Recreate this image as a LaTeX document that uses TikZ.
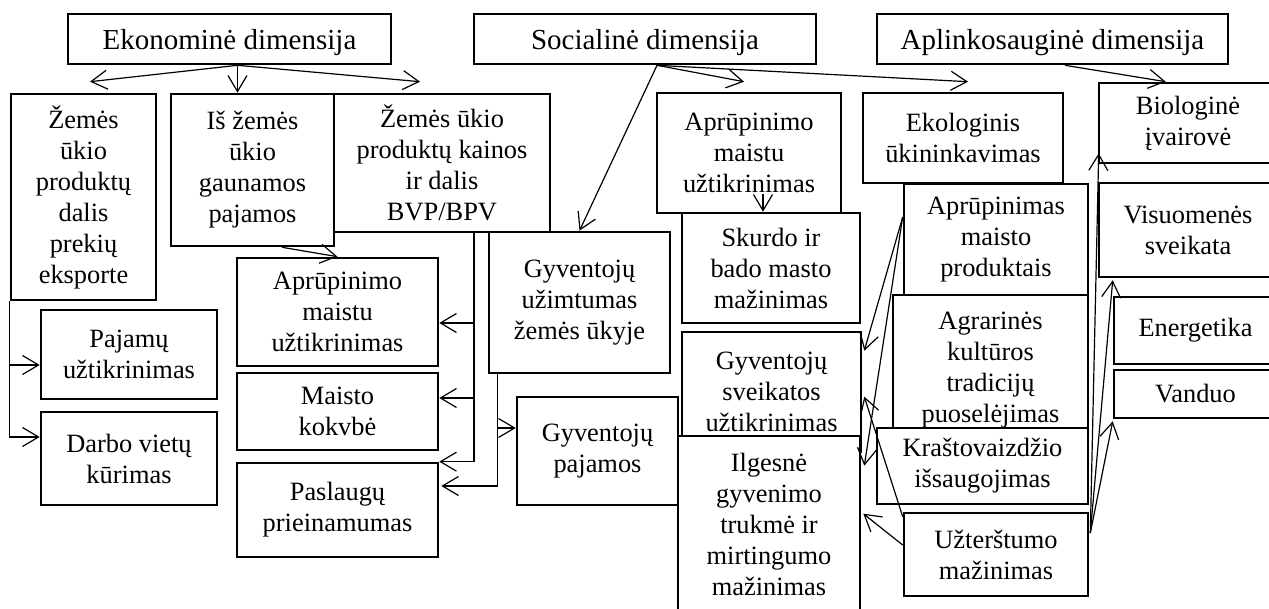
\documentclass[tikz,border=0pt]{standalone}
\usepackage{fontspec}
\setmainfont{Liberation Serif}
\usetikzlibrary{arrows.meta}
\usetikzlibrary{calc}

\begin{document}
\begin{tikzpicture}[
		% Style definitions - one unit is one pixel of the layout, y grows downwards
		x=0.5pt, y=-0.5pt,
		dimension/.style={draw, line width=1.3pt, fill=white, inner sep=0pt, text depth=0pt, font=\fontsize{14.5}{17}\selectfont},
		factor/.style={draw, line width=1.3pt, fill=white, inner sep=0pt, align=center, font=\fontsize{13.2}{15.5}\selectfont},
		arrow/.style={-{Straight Barb[length=8pt, width=9.5pt]}, line width=0.6pt},
		]
		\useasboundingbox (0,0) rectangle (1269,609);

		% === ROW 1: Dimensions ===
		\node[dimension, minimum width=161.5pt, minimum height=25pt] (ekon) at (229.5,39) {Ekonominė dimensija};
		\node[dimension, minimum width=171pt, minimum height=25pt] (soc) at (645,39) {Socialinė dimensija};
		\node[dimension, minimum width=175.5pt, minimum height=25pt] (aplink) at (1052.5,39) {Aplinkosauginė dimensija};

		% === Economic factors ===
		\node[factor, minimum width=72.5pt, minimum height=103pt] (zemes-eksport) at (83.5,197) {Žemės\\ūkio\\produktų\\dalis\\prekių\\eksporte};
		\node[factor, minimum width=81.5pt, minimum height=76pt] (gaunamos-pajamos) at (252.5,170) {Iš žemės\\ūkio\\gaunamos\\pajamos};
		\node[factor, minimum width=108pt, minimum height=69pt] (kainos-bvp) at (442,163) {Žemės ūkio\\produktų kainos\\ir dalis\\BVP/BPV};
		\node[factor, minimum width=88pt, minimum height=44.5pt] (pajamu-uzt) at (129,354.5) {Pajamų\\užtikrinimas};
		\node[factor, minimum width=88pt, minimum height=46.5pt] (darbo-vietos) at (129,458.5) {Darbo vietų\\kūrimas};
		\node[factor, minimum width=100.5pt, minimum height=54pt] (maistas-ek) at (337.5,312) {Aprūpinimo\\maistu\\užtikrinimas};
		\node[factor, minimum width=100.5pt, minimum height=38.5pt] (kokybe) at (337.5,411.5) {Maisto\\kokvbė};
		\node[factor, minimum width=100.5pt, minimum height=47pt] (paslaugos) at (337.5,510) {Paslaugų\\prieinamumas};

		% === Social factors ===
		\node[factor, minimum width=90.5pt, minimum height=70.5pt] (uzimtumas) at (579.5,302.5) {Gyventojų\\užimtumas\\žemės ūkyje};
		\node[factor, minimum width=80.5pt, minimum height=54pt] (gyv-pajamos) at (597.5,451) {Gyventojų\\pajamos};
		\node[factor, minimum width=92pt, minimum height=60pt] (maistas-soc) at (749,153) {Aprūpinimo\\maistu\\užtikrinimas};
		\node[factor, minimum width=89pt, minimum height=55pt] (skurdas) at (771,268) {Skurdo ir\\bado masto\\mažinimas};
		\node[factor, minimum width=89.5pt, minimum height=60pt] (sveikata) at (771.5,392) {Gyventojų\\sveikatos\\užtikrinimas};
		\node[factor, minimum width=91pt, minimum height=88pt] (trukme) at (769,524) {Ilgesnė\\gyvenimo\\trukmė ir\\mirtingumo\\mažinimas};

		% === Environmental factors ===
		\node[factor, minimum width=100pt, minimum height=45pt] (ekologinis) at (963,138) {Ekologinis\\ūkininkavimas};
		\node[factor, minimum width=92pt, minimum height=55.5pt] (produktai) at (996,239.5) {Aprūpinimas\\maisto\\produktais};
		\node[factor, minimum width=97.5pt, minimum height=75pt] (tradicijos) at (990.5,370) {Agrarinės\\kultūros\\tradicijų\\puoselėjimas};
		\node[factor, minimum width=105.5pt, minimum height=38pt] (krastovaizdis) at (982.5,466) {Kraštovaizdžio\\išsaugojimas};
		\node[factor, minimum width=92pt, minimum height=41.5pt] (uzterstumas) at (996,554.5) {Užterštumo\\mažinimas};
		\node[factor, minimum width=89pt, minimum height=40pt] (ivairove) at (1188,123) {Biologinė\\įvairovė};
		\node[factor, minimum width=89pt, minimum height=47pt] (visuomene) at (1188,230) {Visuomenės\\sveikata};
		\node[factor, minimum width=81.5pt, minimum height=33.5pt] (energetika) at (1195.5,330.5) {Energetika};
		\node[factor, minimum width=81.5pt, minimum height=24pt] (vanduo) at (1195.5,394) {Vanduo};

		% === Connections: economic dimension ===
		\coordinate (ekon-out) at ($(ekon.south)+(8,0)$);
		\draw[arrow] (ekon-out) -- ($(zemes-eksport.north)+(6.5,-11)$);
		\draw[arrow] (ekon-out) -- (ekon-out |- gaunamos-pajamos.north);
		\draw[arrow] (ekon-out) -- ($(kainos-bvp.north)+(-22,-11)$);
		\draw[arrow] ($(gaunamos-pajamos.south)+(29.5,0)$) -- (maistas-ek.north);
		\draw[arrow] (zemes-eksport.south west) |- ($(pajamu-uzt.west)+(0,10.5)$);
		\draw[arrow] (zemes-eksport.south west) |- ($(darbo-vietos.west)+(0,-21.5)$);

		\coordinate (kainos-out) at ($(kainos-bvp.south)+(32,0)$);
		\draw[arrow] (kainos-out) |- ($(maistas-ek.east)+(0,11)$);
		\draw[arrow] (kainos-out) |- ($(kokybe.east)+(0,-13.5)$);
		\draw[arrow] (kainos-out) |- (paslaugos.north east);

		% === Connections: social dimension ===
		\coordinate (uzimt-out) at ($(uzimtumas.south west)+(10,0)$);
		\draw[arrow] (uzimt-out) |- ($(gyv-pajamos.west)+(0,-23)$);
		\draw[arrow] (uzimt-out) |- ($(paslaugos.east)+(2,-24)$);

		\coordinate (soc-out) at ($(soc.south)+(12,0)$);
		\draw[arrow] (soc-out) -- (uzimtumas.north);
		\draw[arrow] (soc-out) -- ($(maistas-soc.north)+(-5,-10)$);
		\draw[arrow] (soc-out) -- ($(ekologinis.north)+(5,-10)$);
		\draw[arrow] ($(skurdas.north)+(-8,-18)$) -- ($(skurdas.north)+(-8,0)$);

		% === Connections: environmental dimension ===
		\coordinate (apl-out) at ($(aplink.south)+(12.5,0)$);
		\draw[arrow] (apl-out) -- ($(ivairove.north west)+(68,0)$);

		\coordinate (produktai-out) at ($(produktai.west)+(0,-22.5)$);
		\draw[arrow] (produktai-out) -- ($(sveikata.north east)+(2,20)$);
		\draw[arrow] (produktai-out) -- ($(trukme.north east)+(3,31)$);
		\draw[arrow] ($(uzterstumas.north west)+(0,5)$) -- ($(sveikata.north east)+(2,66)$);
		\draw[arrow] ($(uzterstumas.west)+(0,-9.5)$) -- ($(trukme.north east)+(2,79)$);

		\coordinate (uzterstumas-out) at ($(uzterstumas.east)+(1,-21.5)$);
		\draw[arrow] (uzterstumas-out) -- ($(ivairove.south west)+(1,-11)$);
		\draw[arrow] (uzterstumas-out) -- ($(visuomene.south west)+(15,2)$);
		\draw[arrow] (uzterstumas-out) -- ($(vanduo.south west)+(0,2)$);

	\end{tikzpicture}
\end{document}
